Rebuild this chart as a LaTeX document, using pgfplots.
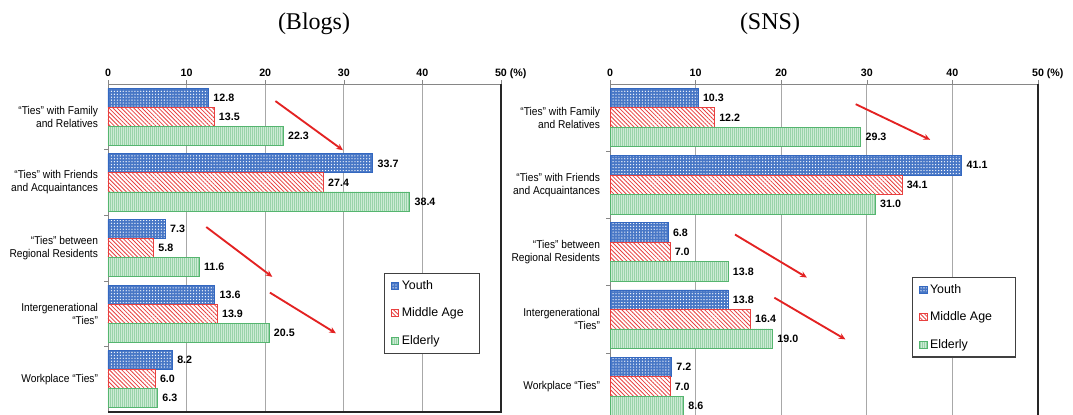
\documentclass[border=0pt]{standalone}
\usepackage{fontspec}
\setmainfont{Liberation Sans}
\newfontfamily\serif{Liberation Serif}
\newfontfamily\narrow[FakeStretch=0.9]{Liberation Sans}
\usepackage{pgfplots}
\pgfplotsset{compat=1.18}
\usetikzlibrary{patterns.meta,arrows.meta}

\definecolor{youth}{HTML}{3468C0}
\definecolor{mid}{HTML}{E8403F}
\definecolor{eld}{HTML}{55B56F}
\definecolor{eldfill}{HTML}{CDEBD5}
\definecolor{arrowred}{HTML}{E32222}
\definecolor{gridgray}{HTML}{A8A8A8}

\newcommand{\lgent}[2][51pt]{\makebox[#1][l]{#2}}

\tikzset{trend/.style={arrowred, line width=1.4pt, -{Stealth[length=5pt,width=4.5pt]}}}

\pgfplotsset{
  ties/.style={
    xbar, scale only axis,
    xmin=0, xmax=50, ymin=-0.5, ymax=4.5,
    xtick={0,10,...,50},
    xticklabels={0,10,20,30,40,{50\rlap{ (\%)}}},
    xticklabel pos=right, xtick pos=right,
    tick align=outside, major tick length=3pt,
    xtick style={gridgray!80!black},
    ytick={0,...,4},
    yticklabels={Workplace “Ties”,{Intergenerational\\“Ties”},{“Ties” between\\Regional Residents},{“Ties” with Friends\\and Acquaintances},{“Ties” with Family\\and Relatives}},
    ytick style={draw=none},
    yticklabel style={font=\narrow\fontsize{8.5}{9.8}\selectfont, align=right, xshift=-1pt},
    xticklabel style={font=\bfseries\fontsize{8}{9}\selectfont, text height=1.6ex, text depth=0.2ex, yshift=-2pt},
    xmajorgrids, grid style={gridgray, line width=0.5pt},
    axis line style={gridgray!80!black},
    bar width=0.29,
    nodes near coords={\pgfmathprintnumber[fixed,fixed zerofill,precision=1]{\pgfplotspointmeta}},
    every node near coord/.append style={font=\bfseries\fontsize{8}{9}\selectfont, text=black},
    /pgf/number format/assume math mode=true,
    clip=false,
    legend cell align=left,
    legend image code/.code={\draw[##1] (0pt,-2.7pt) rectangle (5.4pt,2.7pt);},
    legend style={draw=black!75, line width=0.8pt, font=\fontsize{9.3}{10}\selectfont,
      row sep=8.5pt, inner xsep=5pt, inner ysep=3pt, anchor=north west},
  },
  youthbar/.style={draw=youth, line width=0.6pt, fill=youth!90,
    postaction={pattern={Dots[distance=2.2pt,radius=0.5pt]}, pattern color=white}, bar shift=0.29},
  midbar/.style={draw=mid, line width=0.6pt, fill=white,
    postaction={pattern={Lines[angle=-45,distance=2.2pt,line width=0.6pt]}, pattern color=mid}, bar shift=0},
  eldbar/.style={draw=eld, line width=0.6pt, fill=eldfill,
    postaction={pattern={Lines[angle=90,distance=1.5pt,line width=0.3pt]}, pattern color=eld!60}, bar shift=-0.29},
}

\begin{document}
\begin{tikzpicture}
\path[use as bounding box] (0,0) rectangle (804.75pt,310.5pt);

\node[font=\serif\fontsize{18}{20}\selectfont] at (235.5pt,293pt) {(Blogs)};
\node[font=\serif\fontsize{18}{20}\selectfont] at (577.5pt,293pt) {(SNS)};

% Blogs
\begin{axis}[ties, at={(81pt,1.5pt)}, anchor=south west, width=294.75pt, height=246pt,
  legend style={at={(axis description cs:0.702,0.424)}}]
\addplot[youthbar] coordinates {(12.8,4) (33.7,3) (7.3,2) (13.6,1) (8.2,0)};
\addplot[midbar] coordinates {(13.5,4) (27.4,3) (5.8,2) (13.9,1) (6.0,0)};
\addplot[eldbar] coordinates {(22.3,4) (38.4,3) (11.6,2) (20.5,1) (6.3,0)};
\legend{\lgent{Youth},\lgent{Middle Age},\lgent{Elderly}}
\pgfplotsinvokeforeach{0.5,1.5,2.5,3.5}{\draw[gridgray!80!black] (axis cs:0,#1) -- ++(-3pt,0pt);}
\draw[black!85, line width=1.2pt] (axis cs:50,4.5) -- (axis cs:50,-0.5) -- (axis cs:0,-0.5);
\draw[trend] (axis cs:21.3,4.24) -- (axis cs:29.9,3.49);
\draw[trend] (axis cs:12.5,2.32) -- (axis cs:20.9,1.56);
\draw[trend] (axis cs:20.6,1.32) -- (axis cs:29.0,0.70);
\end{axis}

% SNS
\begin{axis}[ties, at={(457.5pt,-4.5pt)}, anchor=south west, width=321pt, height=252pt,
  legend style={at={(axis description cs:0.706,0.426)}}]
\addplot[youthbar] coordinates {(10.3,4) (41.1,3) (6.8,2) (13.8,1) (7.2,0)};
\addplot[midbar] coordinates {(12.2,4) (34.1,3) (7.0,2) (16.4,1) (7.0,0)};
\addplot[eldbar] coordinates {(29.3,4) (31.0,3) (13.8,2) (19.0,1) (8.6,0)};
\legend{\lgent[57pt]{Youth},\lgent[57pt]{Middle Age},\lgent[57pt]{Elderly}}
\pgfplotsinvokeforeach{0.5,1.5,2.5,3.5}{\draw[gridgray!80!black] (axis cs:0,#1) -- ++(-3pt,0pt);}
\draw[black!85, line width=1.2pt] (axis cs:50,4.5) -- (axis cs:50,-0.5) -- (axis cs:0,-0.5);
\draw[trend] (axis cs:28.7,4.20) -- (axis cs:37.4,3.67);
\draw[trend] (axis cs:14.6,2.26) -- (axis cs:23.0,1.62);
\draw[trend] (axis cs:19.2,1.32) -- (axis cs:27.5,0.70);
\end{axis}
\end{tikzpicture}
\end{document}
